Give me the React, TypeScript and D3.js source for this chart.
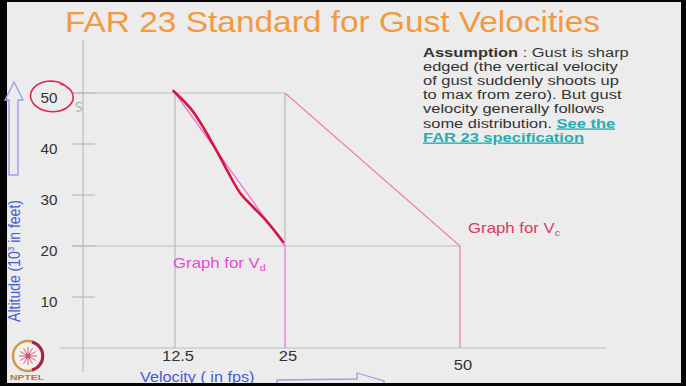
import React from "react";
import * as d3 from "d3";

// ---- data ----
const yTicks = [10, 20, 30, 40, 50];
const xTicks = [12.5, 25, 50];
const xTickLabels = ["12.5", "25", "50"];
const gridAltitudes = [50, 20];
const gridToVelocity = [25, 50];
const vdVelocity = [12.5, 25, 25];
const vdAltitude = [50, 20, 0];
const vcVelocity = [25, 50, 50];
const vcAltitude = [50, 20, 0];
const handVelocity = [12.3, 14.4, 15.9, 17.6, 19.9, 21.4, 23.0, 24.8];
const handAltitude = [50.4, 46.7, 42.7, 37.5, 30.4, 27.6, 24.7, 20.8];
const assumptionLines = [
  "edged (the vertical velocity",
  "of gust suddenly shoots up",
  "to max from zero). But gust",
  "velocity generally follows",
];

const W = 686;
const H = 386;
const FONT = "'Liberation Sans', Arial, sans-serif";
const SX = 1.22;

const C = {
  bg: "#ECECEC",
  grid: "#BBBBBB",
  title: "#F29A42",
  text: "#333333",
  teal: "#22AEB4",
  blue: "#4A5AD4",
  lav: "#9C9CEC",
  vd: "#F272DA",
  vdLabel: "#E24CD6",
  vc: "#F4849F",
  vcLabel: "#DC3A60",
  hand: "#D6163F",
  circle: "#E2244E",
};

function T(props: any) {
  const { x, y, sx = SX, children, ...rest } = props;
  return (
    <text transform={`translate(${x},${y}) scale(${sx},1)`} fontFamily={FONT} {...rest}>
      {children}
    </text>
  );
}

export default function App() {
  const x = d3.scaleLinear().domain([0, 12.5, 25, 50]).range([83, 175, 285, 460]);
  const y = d3.scaleLinear().domain([0, 50]).range([348, 93]);
  const line = d3
    .line<[number, number]>()
    .x((d) => x(d[0]))
    .y((d) => y(d[1]));
  const handLine = d3
    .line<[number, number]>()
    .x((d) => x(d[0]))
    .y((d) => y(d[1]))
    .curve(d3.curveCatmullRom);

  const vd = vdVelocity.map((v, i) => [v, vdAltitude[i]] as [number, number]);
  const vc = vcVelocity.map((v, i) => [v, vcAltitude[i]] as [number, number]);
  const hand = handVelocity.map((v, i) => [v, handAltitude[i]] as [number, number]);

  // hand-drawn circle around the "50" label
  const cx = 51;
  const cy = y(50) + 4;
  const circPts: [number, number][] = d3.range(0, 1.08, 0.06).map((t) => {
    const a = -0.6 - t * Math.PI * 2;
    const r = 1 + 0.06 * Math.sin(t * 9);
    return [cx + 21 * r * Math.cos(a), cy + 15 * r * Math.sin(a)];
  });
  const circPath = d3.line().curve(d3.curveCatmullRom)(circPts) as string;

  return (
    <svg width={W} height={H} style={{ position: "absolute", left: 0, top: 0 }}>
      <rect x={0} y={0} width={W} height={H} fill="#050505" />
      <rect x={7} y={2} width={674} height={381} fill={C.bg} />

      {/* title */}
      <text x={65} y={32} fontFamily={FONT} fontSize={29} fill={C.title} textLength={535} lengthAdjust="spacingAndGlyphs">
        FAR 23 Standard for Gust Velocities
      </text>

      {/* axes */}
      <line x1={x(0)} x2={x(0)} y1={40} y2={372} stroke={C.grid} strokeWidth={1.2} />
      <line x1={60} x2={606} y1={y(0)} y2={y(0)} stroke={C.grid} strokeWidth={1.2} />

      {/* y ticks */}
      {yTicks.map((t) => (
        <g key={t}>
          <line x1={72} x2={95} y1={y(t)} y2={y(t)} stroke={C.grid} strokeWidth={1.2} />
          <T x={49} y={y(t) + 9.5} fontSize={14.5} fill={C.text} textAnchor="middle" sx={1.05}>
            {t}
          </T>
        </g>
      ))}

      {/* horizontal gridlines */}
      {gridAltitudes.map((a, i) => (
        <line key={a} x1={72} x2={x(gridToVelocity[i])} y1={y(a)} y2={y(a)} stroke={C.grid} strokeWidth={1.2} />
      ))}
      {/* vertical gridlines */}
      <line x1={x(12.5)} x2={x(12.5)} y1={y(50)} y2={y(0)} stroke={C.grid} strokeWidth={1.2} />
      <line x1={x(25)} x2={x(25)} y1={y(50)} y2={y(20)} stroke={C.grid} strokeWidth={1.2} />

      {/* x tick labels */}
      {xTicks.map((t, i) => (
        <T key={t} x={x(t) + 3} y={t === 50 ? 370 : 361} fontSize={15} fill={C.text} textAnchor="middle" sx={1.1}>
          {xTickLabels[i]}
        </T>
      ))}

      {/* Vc graph */}
      <path d={line(vc) as string} fill="none" stroke={C.vc} strokeWidth={1.3} />
      {/* Vd graph */}
      <path d={line(vd) as string} fill="none" stroke={C.vd} strokeWidth={1.3} />
      {/* hand-drawn overlay */}
      <path d={handLine(hand) as string} fill="none" stroke={C.hand} strokeWidth={2.6} strokeLinecap="round" strokeLinejoin="round" />

      {/* labels for graphs */}
      <T x={173} y={268} fontSize={14} fill={C.vdLabel} sx={1.2}>
        Graph for V<tspan fontSize={9} dy={3}>d</tspan>
      </T>
      <T x={468} y={233} fontSize={14} fill={C.vcLabel} sx={1.2}>
        Graph for V<tspan fontSize={9} dy={3}>c</tspan>
      </T>

      {/* assumption text */}
      <T x={423} y={57} fontSize={13.5} fill={C.text}>
        <tspan fontWeight="bold">Assumption</tspan>
        <tspan> : Gust is sharp</tspan>
      </T>
      {assumptionLines.map((s, i) => (
        <T key={i} x={423} y={57 + 14.1 * (i + 1)} fontSize={13.5} fill={C.text}>
          {s}
        </T>
      ))}
      <T x={423} y={57 + 14.1 * 5} fontSize={13.5} fill={C.text}>
        <tspan>some distribution. </tspan>
        <tspan fontWeight="bold" fill={C.teal} style={{ textDecoration: "underline" }}>
          See the
        </tspan>
      </T>
      <T x={423} y={57 + 14.1 * 6} fontSize={13.5} fill={C.teal} fontWeight="bold" style={{ textDecoration: "underline" }}>
        FAR 23 specification
      </T>

      {/* y axis label & arrow */}
      <text
        transform={`translate(20,261) rotate(-90) scale(1,1.2)`}
        fontFamily={FONT}
        fontSize={14}
        fill={C.blue}
        textAnchor="middle"
      >
        Altitude (10<tspan fontSize={8} dy={-5}>3</tspan>
        <tspan dy={5}> in feet)</tspan>
      </text>
      <path d="M14,82 L23,100 L18,100 L18,175 L9,175 L9,100 L5,100 Z" fill="none" stroke={C.lav} strokeWidth={1.4} />

      {/* x axis label & arrow */}
      <T x={140} y={382} fontSize={14.5} fill={C.blue} sx={1.12}>
        Velocity ( in fps)
      </T>
      <path d="M277,388 L277,380 L357,379 L357,373 L384,381 L384,388" fill="none" stroke={C.lav} strokeWidth={1.3} />

      {/* hand annotations */}
      <path d={circPath} fill="none" stroke={C.circle} strokeWidth={1.6} />
      <path d="M82,103 C76,101 74,106 79,107 C84,108 82,112 76,111" fill="none" stroke="#B0B0B0" strokeWidth={1.3} />

      {/* NPTEL logo */}
      <g transform="translate(28,356)">
        <circle r={15} fill="#F6F0EA" stroke="#C99A55" strokeWidth={2.5} />
        <path d="M4,-14 A14.5,14.5 0 0 1 4,14" fill="none" stroke="#A8204A" strokeWidth={3} />
        {d3.range(12).map((i) => {
          const a = (i / 12) * Math.PI * 2;
          return (
            <line key={i} x1={0} y1={0} x2={9 * Math.cos(a)} y2={9 * Math.sin(a)} stroke="#D4507A" strokeWidth={0.9} />
          );
        })}
        <circle r={2.5} fill="#D4507A" />
      </g>
      <T x={10} y={380} fontSize={8} fontWeight="bold" fill="#B8773A" sx={1.3}>
        NPTEL
      </T>

      {/* black frame strips */}
      <rect x={0} y={383} width={W} height={3} fill="#050505" />
      <rect x={681} y={0} width={5} height={H} fill="#050505" />
    </svg>
  );
}
